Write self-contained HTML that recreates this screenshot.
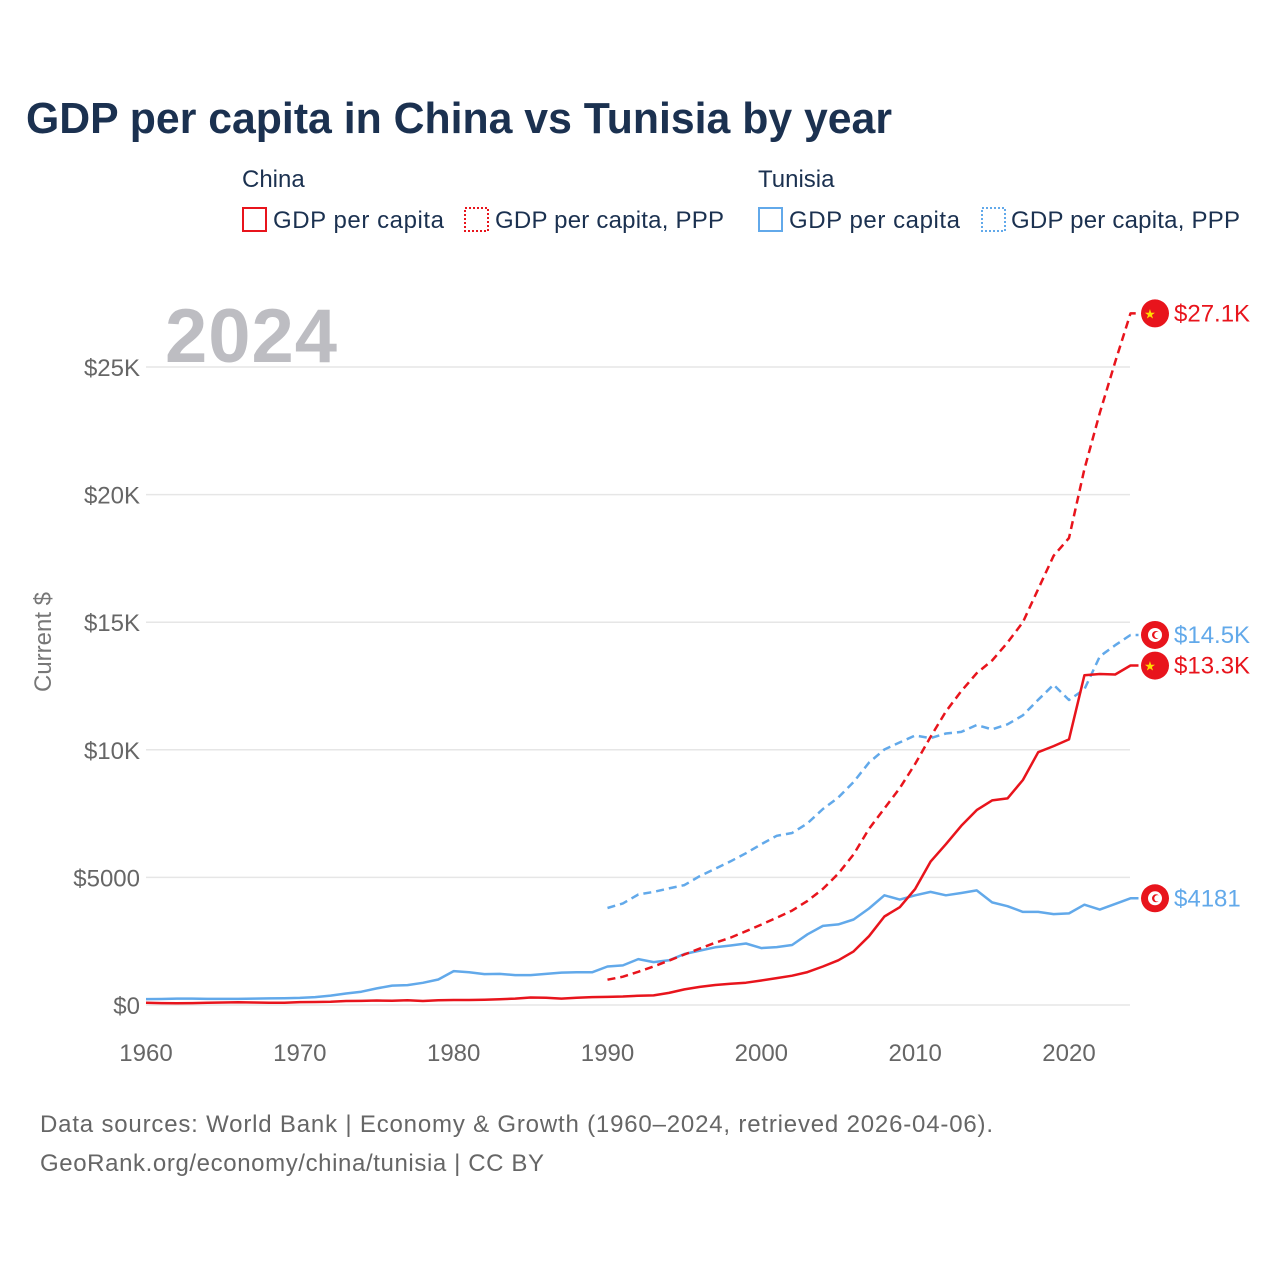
<!DOCTYPE html>
<html><head><meta charset="utf-8"><style>
body{margin:0;background:#fff;font-family:"Liberation Sans",sans-serif}
</style></head><body>
<svg width="1280" height="1280" xmlns="http://www.w3.org/2000/svg" font-family="Liberation Sans, sans-serif">
<text x="26" y="133" font-size="44" font-weight="bold" fill="#1b3150" textLength="866" lengthAdjust="spacingAndGlyphs">GDP per capita in China vs Tunisia by year</text>
<g font-size="24" fill="#1b3150">
<text x="242" y="187">China</text>
<g><rect x="243" y="208" width="23" height="23" fill="none" stroke="#e8141c" stroke-width="2"/><text x="273" y="228" textLength="171">GDP per capita</text></g>
<g><rect x="465" y="208" width="23" height="23" fill="none" stroke="#e8141c" stroke-width="2" stroke-dasharray="2,2"/><text x="495" y="228" textLength="229">GDP per capita, PPP</text></g>
<text x="758" y="187">Tunisia</text>
<g><rect x="759" y="208" width="23" height="23" fill="none" stroke="#62a9ea" stroke-width="2"/><text x="789" y="228" textLength="171">GDP per capita</text></g>
<g><rect x="982" y="208" width="23" height="23" fill="none" stroke="#62a9ea" stroke-width="2" stroke-dasharray="2,2"/><text x="1011" y="228" textLength="229">GDP per capita, PPP</text></g>
</g>
<text x="165" y="362" font-size="76" font-weight="bold" fill="#bdbdc2" textLength="172">2024</text>
<text transform="translate(51,642) rotate(-90)" text-anchor="middle" font-size="24" fill="#777">Current $</text>
<g id="grid"></g><g id="lines"></g><g id="ends"></g>
<text x="40" y="1132" font-size="24" fill="#666" textLength="953">Data sources: World Bank | Economy &amp; Growth (1960–2024, retrieved 2026-04-06).</text>
<text x="40" y="1171" font-size="24" fill="#666" textLength="504">GeoRank.org/economy/china/tunisia | CC BY</text>
</svg>
<script>
const yTicks=[0,5000,10000,15000,20000,25000];
const yTickLabels=["$0","$5000","$10K","$15K","$20K","$25K"];
const xTicks=[1960,1970,1980,1990,2000,2010,2020];
const chinaGdp=[90,76,70,74,85,98,104,97,91,90,113,118,131,157,160,178,165,185,156,184,195,197,203,225,251,294,282,252,284,311,318,333,366,377,473,610,709,782,829,873,959,1053,1149,1289,1509,1753,2099,2694,3468,3832,4550,5614,6301,7020,7636,8016,8094,8817,9905,10144,10409,12918,12970,12951,13303];
const chinaPpp=[990,1110,1300,1510,1740,1980,2210,2440,2640,2890,3150,3420,3700,4080,4550,5150,5900,6900,7700,8500,9450,10500,11500,12300,13000,13500,14200,15000,16300,17600,18300,21000,23200,25200,27100];
const tunGdp=[230,235,250,250,240,240,240,250,260,265,280,310,370,450,520,650,760,780,870,1000,1330,1280,1210,1220,1170,1170,1220,1270,1280,1280,1510,1550,1800,1680,1750,2000,2130,2260,2330,2410,2230,2270,2350,2770,3100,3160,3350,3780,4300,4130,4300,4430,4300,4390,4490,4020,3870,3650,3650,3560,3590,3930,3740,3960,4181];
const tunPpp=[3800,3980,4330,4430,4570,4700,5050,5340,5630,5950,6300,6630,6740,7120,7680,8130,8740,9500,10010,10290,10560,10460,10640,10700,10970,10800,11000,11350,11960,12550,11950,12370,13660,14100,14500];
const NS="http://www.w3.org/2000/svg";
const X=y=>146+(y-1960)*(1069-146)/60;
const Y=v=>1005-v*(1005-367)/25000;
function mk(t,a,p){const e=document.createElementNS(NS,t);for(const k in a)e.setAttribute(k,a[k]);p.appendChild(e);return e;}
const grid=document.getElementById('grid');
yTicks.forEach((v,i)=>{
 const l=mk('line',{x1:146,x2:1130,y1:Y(v),y2:Y(v),stroke:'#e6e6e6','stroke-width':1.5},grid);
 
 
 const t=mk('text',{x:140,y:Y(v)+9,'text-anchor':'end','font-size':24,fill:'#666'},grid);t.textContent=yTickLabels[i];
 
 
});
xTicks.forEach(y=>{
 const t=mk('text',{x:X(y),y:1061,'text-anchor':'middle','font-size':24,fill:'#666'},grid);t.textContent=y;
 
 
});
const lines=document.getElementById('lines');
function series(arr,start,color,dash,name){
 const d=arr.map((v,i)=>(i?'L':'M')+X(start+i).toFixed(1)+','+Y(v).toFixed(1)).join('')+'h8';
 const p=mk('path',{d:d,fill:'none',stroke:color,'stroke-width':2.5,'stroke-dasharray':dash,'stroke-linejoin':'round'},lines);
 
 
}
series(tunPpp,1990,'#62a9ea','8,5','tunisia-ppp-line');
series(tunGdp,1960,'#62a9ea','none','tunisia-gdp-line');
series(chinaPpp,1990,'#e8141c','8,5','china-ppp-line');
series(chinaGdp,1960,'#e8141c','none','china-gdp-line');
const ends=document.getElementById('ends');
function endLabel(v,color,text,flag,name){
 const g=mk('g',{},ends);
 
 
 const y=Y(v);
 mk('circle',{cx:1155,cy:y,r:14,fill:'#e8141c'},g);
 if(flag==='cn'){const s=mk('text',{x:1150,y:y+5,'font-size':13,fill:'#ffde00','text-anchor':'middle'},g);s.textContent='★';}
 else{mk('circle',{cx:1155,cy:y,r:7,fill:'#fff'},g);mk('circle',{cx:1156,cy:y,r:4,fill:'#e8141c'},g);mk('circle',{cx:1157.5,cy:y,r:3.2,fill:'#fff'},g);}
 const t=mk('text',{x:1174,y:y+8,'font-size':24,fill:color},g);t.textContent=text;
}
endLabel(27100,'#e8141c','$27.1K','cn','end-label-china-ppp');
endLabel(14500,'#62a9ea','$14.5K','tn','end-label-tunisia-ppp');
endLabel(13300,'#e8141c','$13.3K','cn','end-label-china-gdp');
endLabel(4181,'#62a9ea','$4181','tn','end-label-tunisia-gdp');
</script>
</body></html>
